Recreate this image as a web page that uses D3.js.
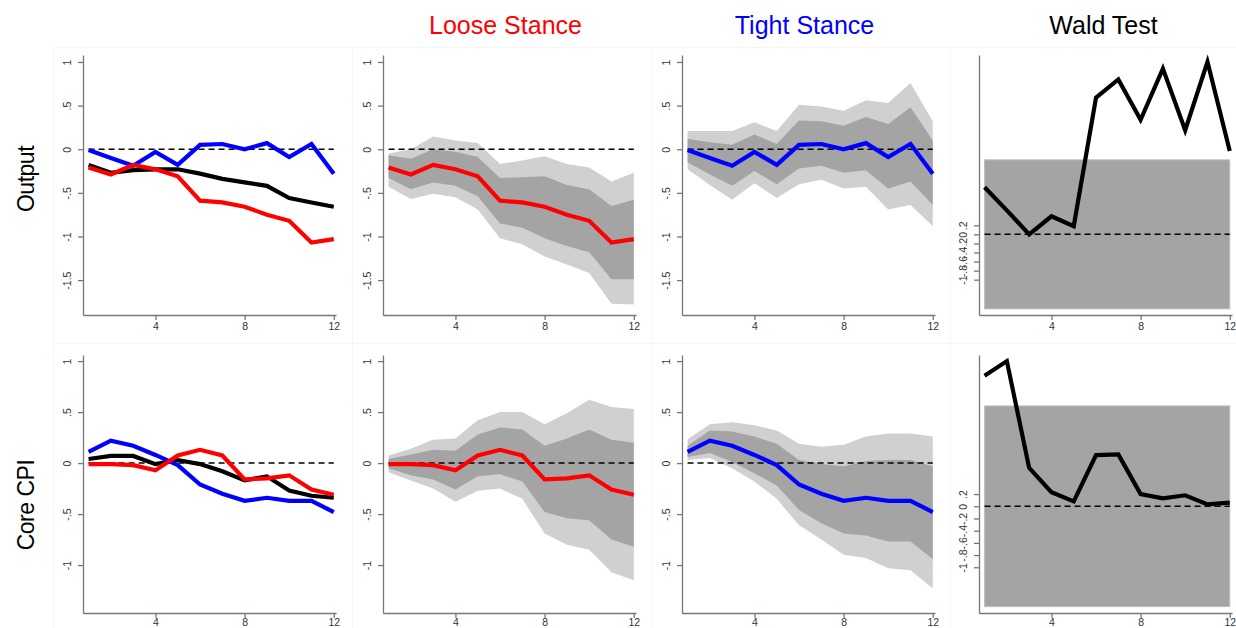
<!DOCTYPE html>
<html>
<head>
<meta charset="utf-8">
<script src="https://cdn.jsdelivr.net/npm/d3@7/dist/d3.min.js"></script>
<style>
  body { margin: 0; background: #fff; }
  svg { display: block; font-family: "Liberation Sans", Arial, sans-serif; }
  .axis path, .axis line { stroke: #777; stroke-width: 1.3; }
  .axis text { fill: #333; font-size: 10.5px; }
</style>
</head>
<body>
<svg id="chart" width="1236" height="628"></svg>
<script>
// horizons (quarters)
const horizons = [1, 2, 3, 4, 5, 6, 7, 8, 9, 10, 11, 12];

// Output responses
const outputLinear = [-0.18, -0.27, -0.24, -0.23, -0.23, -0.28, -0.34, -0.38, -0.42, -0.56, -0.61, -0.66];
const outputLoose = [-0.21, -0.29, -0.18, -0.23, -0.31, -0.59, -0.61, -0.66, -0.75, -0.82, -1.07, -1.03];
const outputLooseLo68 = [-0.33, -0.46, -0.38, -0.42, -0.54, -0.85, -0.90, -1.02, -1.11, -1.18, -1.49, -1.49];
const outputLooseHi68 = [-0.07, -0.11, 0.0, -0.03, -0.09, -0.33, -0.32, -0.31, -0.41, -0.46, -0.65, -0.58];
const outputLooseLo90 = [-0.43, -0.57, -0.51, -0.55, -0.69, -1.02, -1.09, -1.23, -1.32, -1.42, -1.77, -1.78];
const outputLooseHi90 = [-0.05, 0.0, 0.145, 0.10, 0.07, -0.17, -0.13, -0.08, -0.17, -0.21, -0.37, -0.27];
const outputTight = [-0.01, -0.10, -0.19, -0.03, -0.18, 0.05, 0.06, 0.0, 0.07, -0.09, 0.06, -0.28];
const outputTightLo68 = [-0.15, -0.29, -0.42, -0.25, -0.40, -0.22, -0.19, -0.27, -0.24, -0.45, -0.37, -0.64];
const outputTightHi68 = [0.12, 0.08, 0.05, 0.17, 0.06, 0.33, 0.32, 0.27, 0.37, 0.29, 0.48, 0.10];
const outputTightLo90 = [-0.23, -0.41, -0.58, -0.39, -0.56, -0.40, -0.35, -0.45, -0.43, -0.69, -0.64, -0.88];
const outputTightHi90 = [0.21, 0.21, 0.21, 0.31, 0.21, 0.51, 0.49, 0.44, 0.56, 0.53, 0.76, 0.32];

// Core CPI responses
const cpiLinear = [0.04, 0.07, 0.07, -0.01, 0.03, -0.01, -0.08, -0.17, -0.13, -0.27, -0.32, -0.34];
const cpiLoose = [-0.01, -0.01, -0.02, -0.07, 0.075, 0.13, 0.075, -0.16, -0.15, -0.12, -0.26, -0.31];
const cpiLooseLo68 = [-0.05, -0.12, -0.16, -0.26, -0.13, -0.11, -0.18, -0.48, -0.54, -0.56, -0.75, -0.82];
const cpiLooseHi68 = [0.04, 0.085, 0.13, 0.12, 0.28, 0.35, 0.33, 0.17, 0.24, 0.33, 0.23, 0.20];
const cpiLooseLo90 = [-0.09, -0.17, -0.25, -0.38, -0.27, -0.25, -0.35, -0.69, -0.80, -0.85, -1.07, -1.15];
const cpiLooseHi90 = [0.075, 0.14, 0.23, 0.24, 0.42, 0.50, 0.50, 0.38, 0.49, 0.62, 0.55, 0.53];
const cpiTight = [0.11, 0.22, 0.17, 0.08, -0.02, -0.21, -0.30, -0.37, -0.34, -0.37, -0.37, -0.48];
const cpiTightLo68 = [0.06, 0.10, 0.01, -0.10, -0.22, -0.46, -0.59, -0.69, -0.71, -0.77, -0.77, -0.94];
const cpiTightHi68 = [0.17, 0.32, 0.31, 0.26, 0.19, 0.03, -0.01, -0.03, 0.02, 0.03, 0.03, -0.03];
const cpiTightLo90 = [0.03, 0.05, -0.05, -0.18, -0.35, -0.61, -0.75, -0.90, -0.93, -1.03, -1.05, -1.23];
const cpiTightHi90 = [0.235, 0.38, 0.40, 0.37, 0.32, 0.19, 0.16, 0.18, 0.26, 0.29, 0.29, 0.26];

// Wald test statistics
const waldOutput = [1.04, 0.53, 0.0, 0.40, 0.18, 3.02, 3.42, 2.53, 3.66, 2.30, 3.81, 1.84];
const waldCpi = [2.14, 2.38, 0.63, 0.23, 0.08, 0.84, 0.85, 0.20, 0.13, 0.18, 0.03, 0.06];
const waldCritical = 1.645;

// tick labels
const xTicks = [4, 8, 12];
const outputTicks = [-1.5, -1, -0.5, 0, 0.5, 1];
const cpiTicks = [-1, -0.5, 0, 0.5, 1];
const waldTicks = [-1, -0.8, -0.6, -0.4, -0.2, 0, 0.2];

const colTitles = [
    { text: "Loose Stance", color: "#ff0000" },
    { text: "Tight Stance", color: "#0000ff" },
    { text: "Wald Test", color: "#000000" }
];
const rowTitles = ["Output", "Core CPI"];

const svg = d3.select("#chart");

// stata style tick label: 0.5 -> ".5", -0.5 -> "-.5"
const stataFmt = v => {
    if (v === 0) return "0";
    return String(+v.toFixed(2)).replace(/^(-?)0\./, "$1.");
};

const colX = [83, 383, 682, 979];
const plotW = 253;
const rows = [
    { top: 55, bottom: 315, domain: [-1.9, 1.08], ticks: outputTicks, waldDomain: [-1.78, 3.96], pad: 2 },
    { top: 355, bottom: 613, domain: [-1.47, 1.06], ticks: cpiTicks, waldDomain: [-1.75, 2.48], pad: 0 }
];

// very faint panel frames
const frameX = [53, 352, 651, 950, 1236];
const frameY = [47, 343, 640];
for (let r = 0; r < 2; r++) {
    for (let c = 0; c < 4; c++) {
        svg.append("rect")
            .attr("x", frameX[c] + 0.5).attr("y", frameY[r] + 0.5)
            .attr("width", frameX[c + 1] - frameX[c]).attr("height", frameY[r + 1] - frameY[r])
            .attr("fill", "none").attr("stroke", "#f6f6f6");
    }
}

function drawPanel(col, row, opts) {
    const x0 = colX[col];
    const x = d3.scaleLinear().domain([0.75, 12.1]).range([x0, x0 + plotW]);
    const y = d3.scaleLinear().domain(opts.domain).range([row.bottom, row.top]);
    const g = svg.append("g");

    const area = (lo, hi) => d3.area()
        .x((d, i) => x(horizons[i]))
        .y0((d, i) => y(lo[i]))
        .y1((d, i) => y(hi[i]))(horizons);
    const line = vals => d3.line()
        .x((d, i) => x(horizons[i]))
        .y((d, i) => y(vals[i]))(horizons);

    if (opts.bands) {
        const b = opts.bands;
        g.append("path").attr("d", area(b.lo90, b.hi90)).attr("fill", "#d0d0d0");
        g.append("path").attr("d", area(b.lo68, b.hi68)).attr("fill", "#a4a4a4");
    }
    if (opts.critical) {
        g.append("rect")
            .attr("x", x(1)).attr("y", y(opts.critical))
            .attr("width", x(12) - x(1))
            .attr("height", y(-opts.critical) - y(opts.critical))
            .attr("fill", "#a4a4a4").attr("stroke", "#bdbdbd").attr("stroke-width", 1);
    }

    // zero reference
    g.append("line")
        .attr("x1", x(1)).attr("x2", x(12))
        .attr("y1", y(0)).attr("y2", y(0))
        .attr("stroke", "#000").attr("stroke-width", 1.5)
        .attr("stroke-dasharray", "6,4");

    opts.lines.forEach(l => {
        g.append("path").attr("d", line(l.values))
            .attr("fill", "none").attr("stroke", l.color)
            .attr("stroke-width", 4.2).attr("stroke-linejoin", "miter");
    });

    // axes
    const xAxis = g.append("g").attr("class", "axis")
        .attr("transform", `translate(0,${row.bottom})`)
        .call(d3.axisBottom(x).tickValues(xTicks).tickSize(5).tickSizeOuter(0).tickPadding(row.pad));
    xAxis.selectAll("text").attr("dy", "0.8em");

    const yAxis = g.append("g").attr("class", "axis")
        .attr("transform", `translate(${x0},0)`)
        .call(d3.axisLeft(y).tickValues(opts.ticks).tickFormat(stataFmt).tickSize(5).tickSizeOuter(0));
    yAxis.selectAll("text")
        .attr("x", null).attr("dy", null)
        .attr("text-anchor", "middle")
        .attr("transform", "translate(-12,0) rotate(-90)");
}

rows.forEach((row, r) => {
    const isOut = r === 0;
    const lin = isOut ? outputLinear : cpiLinear;
    const loose = isOut ? outputLoose : cpiLoose;
    const tight = isOut ? outputTight : cpiTight;

    drawPanel(0, row, {
        domain: row.domain, ticks: row.ticks,
        lines: [
            { values: lin, color: "#000" },
            { values: tight, color: "#0000ff" },
            { values: loose, color: "#ff0000" }
        ]
    });
    drawPanel(1, row, {
        domain: row.domain, ticks: row.ticks,
        bands: isOut
            ? { lo90: outputLooseLo90, hi90: outputLooseHi90, lo68: outputLooseLo68, hi68: outputLooseHi68 }
            : { lo90: cpiLooseLo90, hi90: cpiLooseHi90, lo68: cpiLooseLo68, hi68: cpiLooseHi68 },
        lines: [{ values: loose, color: "#ff0000" }]
    });
    drawPanel(2, row, {
        domain: row.domain, ticks: row.ticks,
        bands: isOut
            ? { lo90: outputTightLo90, hi90: outputTightHi90, lo68: outputTightLo68, hi68: outputTightHi68 }
            : { lo90: cpiTightLo90, hi90: cpiTightHi90, lo68: cpiTightLo68, hi68: cpiTightHi68 },
        lines: [{ values: tight, color: "#0000ff" }]
    });
    drawPanel(3, row, {
        domain: row.waldDomain, ticks: waldTicks,
        critical: waldCritical,
        lines: [{ values: isOut ? waldOutput : waldCpi, color: "#000" }]
    });
});

// column titles
colTitles.forEach((t, i) => {
    svg.append("text")
        .attr("x", colX[i + 1] + plotW / 2 - 4 + (i === 2 ? 2 : 0)).attr("y", 34)
        .attr("text-anchor", "middle")
        .attr("font-size", 25)
        .attr("fill", t.color)
        .text(t.text);
});

// row titles
const rowCenters = [179, 505];
rowTitles.forEach((t, i) => {
    svg.append("text")
        .attr("transform", `translate(34,${rowCenters[i]}) rotate(-90)`)
        .attr("text-anchor", "middle")
        .attr("font-size", 23)
        .attr("letter-spacing", -0.5)
        .attr("fill", "#000")
        .text(t);
});
</script>
</body>
</html>
